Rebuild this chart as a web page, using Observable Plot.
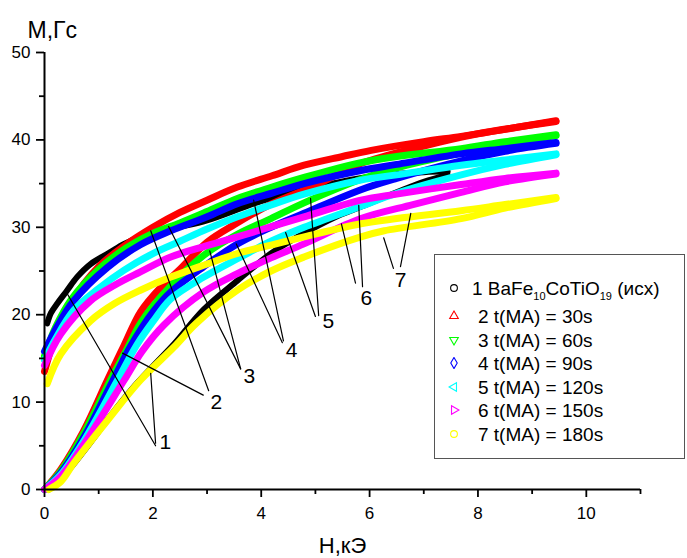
<!DOCTYPE html>
<html>
<head>
<meta charset="utf-8">
<script src="https://cdn.jsdelivr.net/npm/d3@7"></script>
<script src="https://cdn.jsdelivr.net/npm/@observablehq/plot@0.6"></script>
<style>
  html, body { margin: 0; padding: 0; background: #fff; }
  #wrap { position: relative; width: 687px; height: 558px; font-family: 'Liberation Sans', Arial, sans-serif; }
  #legend { position: absolute; left: 434px; top: 254px; width: 251px; height: 205px; border: 1px solid #555; box-sizing: border-box; background: #fff; }
  .row { position: absolute; font-size: 19px; line-height: 19px; white-space: nowrap; color: #000; transform: translateY(-50%); }
  .sym { position: absolute; transform: translate(-50%, -50%); }
  sub { font-size: 11px; vertical-align: -5px; line-height: 0; }
</style>
</head>
<body>
<div id="wrap"><div id="legend"></div></div>
<script>
// ---- data (H, kOe ; M, G) ----
const seriesNames = ["1 BaFe10CoTiO19 (исх)", "2 t(MA) = 30s", "3 t(MA) = 60s", "4 t(MA) = 90s", "5 t(MA) = 120s", "6 t(MA) = 150s", "7 t(MA) = 180s"];
const seriesColors = ["#000000", "#ff0000", "#00ff00", "#0000ff", "#00ffff", "#ff00ff", "#ffff00"];
const seriesSymbols = ["circle", "up", "down", "diamond", "left", "right", "circle"];
const seriesWidths = [6, 7, 7, 7, 7, 7, 7];

const blackUp = [[7.44,36.4],[7.0,36.3],[6.0,35.8],[5.0,34.6],[4.0,33.0],[3.0,30.8],[2.4,29.9],[1.8,28.9],[1.47,28.1],[1.2,27.1],[0.85,25.8],[0.6,24.3],[0.42,22.8],[0.25,21.4],[0.12,20.2],[0.05,19.0]];
const blackLo = [[0.08,0],[0.4,1.9],[0.8,5.0],[1.2,8.3],[1.6,11.4],[2.0,14.1],[2.4,16.7],[2.94,20.6],[3.56,23.9],[4.18,27.0],[4.67,28.9],[5.41,31.3],[5.9,32.5],[6.5,34.0],[7.0,35.2],[7.44,36.0]];
const redUp = [[9.44,42.2],[8.5,41.2],[7.69,40.4],[7.0,39.8],[6.03,38.8],[5.5,38.1],[4.79,37.1],[4.2,35.9],[3.56,34.6],[3.0,33.1],[2.5,31.7],[2.0,30.0],[1.5,28.0],[1.0,25.5],[0.5,21.5],[0.2,17.5],[0.0,13.5]];
const redLo = [[0,0],[0.3,2.3],[0.73,6.8],[1.16,12.5],[1.47,16.5],[1.77,20.3],[2.14,23.1],[2.5,25.2],[3.0,28.3],[3.5,30.3],[4.2,32.7],[5.0,34.8],[5.84,37.3],[7.0,39.3],[8.0,40.7],[9.44,42.1]];
const greenUp = [[9.44,40.6],[8.5,39.8],[7.69,39.0],[6.5,38.1],[5.84,37.4],[4.79,35.7],[4.2,34.6],[3.56,33.3],[3.0,31.8],[2.5,30.5],[2.0,29.3],[1.5,27.6],[1.0,25.2],[0.5,21.8],[0.2,18.5],[0,15.3]];
const greenLo = [[0,0],[0.3,2.1],[0.73,6.5],[1.2,12.3],[1.5,15.8],[1.8,19.3],[2.33,23.3],[2.94,26.8],[3.56,29.2],[4.18,31.0],[4.79,32.8],[5.84,35.5],[6.5,36.8],[7.69,38.5],[8.5,39.5],[9.44,40.5]];
const blueUp = [[9.44,39.7],[8.5,39.0],[7.69,38.4],[6.5,37.2],[5.84,36.5],[4.79,35.0],[4.2,33.9],[3.56,32.7],[3.0,31.2],[2.33,29.6],[1.77,28.0],[1.16,25.4],[0.54,21.6],[0.23,18.6],[0,15.8]];
const blueLo = [[0,0],[0.3,1.9],[0.73,6.0],[1.25,12.3],[1.6,16.5],[2.0,20.3],[2.33,22.6],[2.94,25.5],[3.56,28.1],[4.18,30.0],[4.79,31.6],[5.84,34.3],[6.5,35.6],[7.69,37.6],[8.5,38.7],[9.44,39.6]];
const cyanUp = [[9.44,38.4],[8.5,37.7],[7.69,37.1],[6.5,36.0],[5.84,35.4],[4.79,33.8],[4.2,32.6],[3.56,31.2],[3.0,29.8],[2.5,28.4],[2.0,27.0],[1.47,25.1],[1.0,23.0],[0.54,20.5],[0.2,17.2],[0,14.8]];
const cyanLo = [[0,0],[0.3,1.7],[0.73,5.6],[1.33,12.3],[1.7,16.5],[2.0,19.2],[2.33,21.8],[2.94,24.3],[3.56,26.4],[4.18,28.4],[4.79,30.0],[5.84,32.4],[6.5,33.9],[7.69,36.0],[8.5,37.2],[9.44,38.3]];
const magUp = [[9.44,36.2],[8.5,35.6],[7.69,34.9],[6.5,33.8],[5.84,33.1],[4.79,31.2],[4.2,30.1],[3.56,28.9],[3.0,27.9],[2.33,26.6],[1.77,24.9],[1.3,23.4],[0.85,21.6],[0.3,17.8],[0,14.2]];
const magLo = [[0,0],[0.3,1.5],[0.73,5.2],[1.47,12.5],[1.8,15.8],[2.2,18.8],[2.94,22.6],[3.56,24.7],[4.18,26.5],[4.79,28.1],[5.84,31.0],[6.8,32.6],[7.69,34.0],[8.5,35.2],[9.44,36.1]];
const yelUp = [[9.44,33.4],[8.5,32.6],[7.69,31.9],[6.5,31.0],[5.84,30.4],[4.79,28.9],[4.2,28.0],[3.56,27.0],[3.0,25.8],[2.33,24.3],[1.77,22.8],[1.3,21.3],[0.85,19.3],[0.3,15.5],[0.05,12.1]];
const yelLo = [[0.08,0],[0.3,0.9],[0.54,3.0],[1.16,7.9],[1.77,12.5],[2.39,16.3],[2.8,19.0],[3.56,22.8],[4.18,25.0],[4.79,26.6],[5.84,28.9],[6.27,29.6],[7.69,31.0],[8.5,32.2],[9.44,33.3]];

const branches = [[blackUp, blackLo], [redUp, redLo], [greenUp, greenLo], [blueUp, blueLo], [cyanUp, cyanLo], [magUp, magLo], [yelUp, yelLo]];

// curve number labels and their leader lines (data coordinates)
const labelText = ["1", "2", "3", "4", "5", "6", "7"];
const labelPos = [[2.23,5.4],[3.17,9.95],[3.78,13.0],[4.56,15.9],[5.24,19.2],[5.94,21.9],[6.57,23.9]];
const leaderLines = [
  [[0.42,22.4],[2.05,5.0]], [[1.96,13.3],[2.05,5.3]],
  [[1.44,15.6],[2.93,10.8]], [[1.96,29.6],[3.03,11.3]],
  [[2.29,30.1],[3.62,13.8]], [[3.05,27.3],[3.62,13.8]],
  [[3.86,33.1],[4.41,17.0]], [[3.54,28.1],[4.39,16.8]],
  [[4.91,33.3],[5.06,19.9]], [[4.45,29.4],[5.0,19.8]],
  [[5.80,32.5],[5.87,23.2]], [[5.48,30.4],[5.74,23.6]],
  [[6.76,31.6],[6.57,25.5]], [[6.26,28.8],[6.44,25.3]]
];

const xTicks = [0, 2, 4, 6, 8, 10];
const xMinor = [1, 3, 5, 7, 9, 11];
const yTicks = [0, 10, 20, 30, 40, 50];
const yMinor = [5, 15, 25, 35, 45];

// ---- build ----
const curveMarks = branches.map((pair, i) => {
  const rows = [];
  pair.forEach((br, b) => br.forEach(([h, m]) => rows.push({b, h, m})));
  return Plot.line(rows, {x: "h", y: "m", z: "b", stroke: seriesColors[i], strokeWidth: seriesWidths[i],
    strokeLinecap: "round", strokeLinejoin: "round", curve: "catmull-rom"});
});

const leaderRows = [];
leaderLines.forEach((seg, k) => seg.forEach(([h, m]) => leaderRows.push({k, h, m})));
const labelRows = labelText.map((t, i) => ({t, h: labelPos[i][0], m: labelPos[i][1]}));

const plot = Plot.plot({
  width: 687, height: 558,
  marginLeft: 44, marginRight: 47, marginTop: 52, marginBottom: 69,
  x: {domain: [0, 11]},
  y: {domain: [0, 50]},
  style: {fontFamily: "'Liberation Sans', Arial, sans-serif", color: "black", background: "white", overflow: "visible"},
  marks: [
    ...curveMarks,
    Plot.line(leaderRows, {x: "h", y: "m", z: "k", stroke: "black", strokeWidth: 1.2}),
    Plot.text(labelRows, {x: "h", y: "m", text: "t", fontSize: 21, fill: "black"}),
    Plot.ruleY([0], {strokeWidth: 2}),
    Plot.ruleX([0], {strokeWidth: 2}),
    Plot.axisX(xTicks, {tickSize: 8, tickPadding: 9, fontSize: 17, strokeWidth: 1.8, label: null}),
    Plot.axisX(xMinor, {tickSize: 5, tickFormat: () => "", strokeWidth: 1.8, label: null}),
    Plot.axisY(yTicks, {tickSize: 8, tickPadding: 6, fontSize: 17, strokeWidth: 1.8, label: null}),
    Plot.axisY(yMinor, {tickSize: 5, tickFormat: () => "", strokeWidth: 1.8, label: null}),
    Plot.text(["М,Гс"], {frameAnchor: "top-left", dx: -17, dy: -15, textAnchor: "start", lineAnchor: "bottom", fontSize: 23}),
    Plot.text(["Н,кЭ"], {frameAnchor: "bottom", dy: 63, lineAnchor: "bottom", fontSize: 22})
  ]
});
const wrap = document.getElementById("wrap");
wrap.insertBefore(plot, wrap.firstChild);

// ---- legend ----
const legend = document.getElementById("legend");
const rowY = [33, 61, 84.5, 108, 131.5, 155, 178.5];
const symGen = {
  circle: d3.symbol(d3.symbolCircle, 36),
  tri: d3.symbol(d3.symbolTriangle, 32),
  diamond: d3.symbol(d3.symbolDiamond, 36)
};
seriesNames.forEach((name, i) => {
  const s = seriesSymbols[i];
  let path, rot = 0;
  if (s === "circle") path = symGen.circle();
  else if (s === "diamond") path = symGen.diamond();
  else { path = symGen.tri(); rot = {up: 0, down: 180, left: -90, right: 90}[s]; }
  const svg = document.createElementNS("http://www.w3.org/2000/svg", "svg");
  svg.setAttribute("width", 12); svg.setAttribute("height", 12);
  svg.setAttribute("class", "sym");
  svg.style.left = "19px"; svg.style.top = rowY[i] + "px";
  const p = document.createElementNS("http://www.w3.org/2000/svg", "path");
  p.setAttribute("d", path);
  p.setAttribute("transform", `translate(6,6) rotate(${rot})`);
  p.setAttribute("fill", "none"); p.setAttribute("stroke", seriesColors[i]); p.setAttribute("stroke-width", 1.1);
  svg.appendChild(p);
  legend.appendChild(svg);
  const div = document.createElement("div");
  div.className = "row";
  div.style.left = (i === 0 ? 37 : 43) + "px";
  div.style.top = rowY[i] + "px";
  if (i === 0) {
    const m = name.match(/^(1 BaFe)(10)(CoTiO)(19)( .*)$/);
    div.append(m[1]);
    const s1 = document.createElement("sub"); s1.textContent = m[2]; div.append(s1);
    div.append(m[3]);
    const s2 = document.createElement("sub"); s2.textContent = m[4]; div.append(s2);
    div.append(m[5]);
  } else div.textContent = name;
  legend.appendChild(div);
});
</script>
</body>
</html>
